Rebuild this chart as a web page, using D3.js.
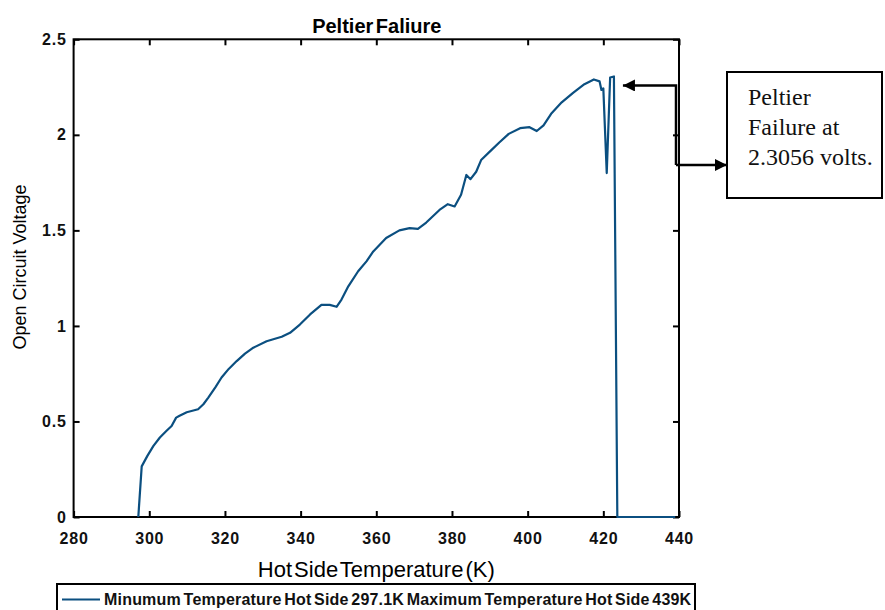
<!DOCTYPE html>
<html>
<head>
<meta charset="utf-8">
<script src="https://cdn.jsdelivr.net/npm/d3@7"></script>
<style>
  body { margin: 0; background: #fff; }
  svg { display: block; }
  .tick text { font-family: "Liberation Sans", Arial, sans-serif; font-size: 16px; font-weight: bold; fill: #111; letter-spacing: 0.8px; }
  .tick line { stroke: #000; stroke-width: 2; }
</style>
</head>
<body>
<div id="chart"></div>
<script>
// hot side temperature (K) and open circuit voltage (V)
var temps = [297.1, 298.0, 299.5, 301.1, 302.8, 304.5, 305.9, 307.1, 308.0, 309.9,
  312.9, 314.3, 315.6, 317.5, 319.1, 321.0, 323.1, 325.3, 327.5, 331.0,
  335.0, 337.2, 339.8, 342.5, 345.5, 347.7, 349.5, 350.8, 352.6, 355.2,
  357.4, 359.2, 360.9, 362.6, 366.1, 368.8, 371.0, 373.2, 376.7, 378.9,
  380.7, 382.4, 383.8, 384.9, 386.4, 387.7, 390.4, 392.5, 395.0, 398.0,
  400.5, 402.4, 404.2, 406.2, 409.0, 412.0, 415.0, 417.5, 419.0, 419.5,
  420.0, 420.9, 421.8, 422.8, 423.7, 439.0]
var voltages = [0, 0.265, 0.32, 0.372, 0.416, 0.45, 0.476, 0.52, 0.53, 0.548,
  0.564, 0.59, 0.625, 0.68, 0.73, 0.775, 0.816, 0.855, 0.886, 0.92,
  0.943, 0.964, 1.007, 1.06, 1.11, 1.11, 1.10, 1.138, 1.207, 1.286,
  1.338, 1.39, 1.425, 1.46, 1.50, 1.512, 1.508, 1.541, 1.607, 1.637,
  1.625, 1.686, 1.79, 1.768, 1.807, 1.868, 1.92, 1.96, 2.005, 2.035,
  2.04, 2.02, 2.05, 2.11, 2.17, 2.22, 2.265, 2.29, 2.28, 2.235,
  2.243, 1.80, 2.30, 2.3056, 0, 0]

var xTicks = [280, 300, 320, 340, 360, 380, 400, 420, 440]
var yTicks = [0, 0.5, 1, 1.5, 2, 2.5]
var yTickLabels = ["0", "0.5", "1", "1.5", "2", "2.5"]

var titleText = "Peltier Faliure"
var xLabel = "Hot Side Temperature (K)"
var yLabel = "Open Circuit Voltage"
var legendText = "Minumum Temperature Hot Side 297.1K Maximum Temperature Hot Side 439K"
var noteLines = ["Peltier", "Failure at", "2.3056 volts."]
var failureT = 422.8, failureV = 2.3056

var width = 885, height = 610
var plot = {left: 73.6, right: 679, top: 39.3, bottom: 517}
var lineColor = "#0b4f80"

var svg = d3.select("#chart").append("svg")
  .attr("width", width).attr("height", height)

var x = d3.scaleLinear().domain([280, 440]).range([plot.left, plot.right])
var y = d3.scaleLinear().domain([0, 2.5]).range([plot.bottom, plot.top])

// axes, ticks pointing inward like matlab
svg.append("g")
  .attr("transform", `translate(0,${plot.bottom})`)
  .call(d3.axisBottom(x).tickValues(xTicks).tickSizeInner(-6).tickSizeOuter(0).tickPadding(15.5))
  .call(g => g.select(".domain").remove())

svg.append("g")
  .attr("transform", `translate(${plot.left},0)`)
  .call(d3.axisLeft(y).tickValues(yTicks).tickFormat((d, i) => yTickLabels[i])
    .tickSizeInner(-6).tickSizeOuter(0).tickPadding(7))
  .call(g => g.select(".domain").remove())

svg.append("g")
  .attr("transform", `translate(0,${plot.top})`)
  .call(d3.axisTop(x).tickValues(xTicks).tickSizeInner(-6).tickSizeOuter(0).tickFormat(""))
  .call(g => g.select(".domain").remove())

svg.append("g")
  .attr("transform", `translate(${plot.right},0)`)
  .call(d3.axisRight(y).tickValues(yTicks).tickSizeInner(-6).tickSizeOuter(0).tickFormat(""))
  .call(g => g.select(".domain").remove())

svg.append("rect")
  .attr("x", plot.left).attr("y", plot.top)
  .attr("width", plot.right - plot.left).attr("height", plot.bottom - plot.top)
  .attr("fill", "none").attr("stroke", "#000").attr("stroke-width", 2)

// the curve
var pts = temps.map((t, i) => [t, voltages[i]])
var line = d3.line().x(d => x(d[0])).y(d => y(d[1]))
svg.append("path")
  .datum(pts)
  .attr("d", line)
  .attr("fill", "none")
  .attr("stroke", lineColor)
  .attr("stroke-width", 2.2)
  .attr("stroke-linejoin", "round")

// titles
svg.append("text")
  .attr("x", (plot.left + plot.right) / 2 + 0.5).attr("y", 33)
  .attr("text-anchor", "middle")
  .style("font-family", "Liberation Sans, Arial, sans-serif")
  .style("font-size", "20px").style("font-weight", "bold")
  .style("word-spacing", "-3px")
  .text(titleText)

svg.append("text")
  .attr("x", (plot.left + plot.right) / 2).attr("y", 577)
  .attr("text-anchor", "middle")
  .style("font-family", "Liberation Sans, Arial, sans-serif")
  .style("font-size", "22px")
  .style("word-spacing", "-4px")
  .text(xLabel)

svg.append("text")
  .attr("transform", `translate(26,267) rotate(-90)`)
  .attr("text-anchor", "middle")
  .style("font-family", "Liberation Sans, Arial, sans-serif")
  .style("font-size", "18px")
  .text(yLabel)

// legend box at the bottom
var legend = svg.append("g")
legend.append("rect")
  .attr("x", 57).attr("y", 584).attr("width", 638).attr("height", 34)
  .attr("fill", "#fff").attr("stroke", "#000").attr("stroke-width", 2)
legend.append("line")
  .attr("x1", 62).attr("x2", 100).attr("y1", 599.5).attr("y2", 599.5)
  .attr("stroke", lineColor).attr("stroke-width", 2.2)
legend.append("text")
  .attr("x", 104).attr("y", 605)
  .style("font-family", "Liberation Sans, Arial, sans-serif")
  .style("font-size", "16px").style("font-weight", "bold")
  .style("letter-spacing", "0.2px")
  .style("word-spacing", "-2px")
  .attr("fill", "#111")
  .text(legendText)

// annotation box + arrows
svg.append("defs").append("marker")
  .attr("id", "head")
  .attr("viewBox", "0 0 10 10")
  .attr("refX", 10).attr("refY", 5)
  .attr("markerWidth", 17).attr("markerHeight", 12)
  .attr("markerUnits", "userSpaceOnUse")
  .attr("orient", "auto")
  .append("path").attr("d", "M0,0 L10,5 L0,10 Z").attr("fill", "#000")

var tipX = x(failureT) + 9, tipY = y(failureV) + 9
var elbowX = 676, boxX = 727, boxY = 72, boxW = 155, boxH = 126
var lowY = 165

svg.append("path")
  .attr("d", `M${elbowX},${lowY} L${elbowX},${tipY} L${tipX},${tipY}`)
  .attr("fill", "none").attr("stroke", "#000").attr("stroke-width", 2.5)
  .attr("marker-end", "url(#head)")
svg.append("path")
  .attr("d", `M${elbowX},${lowY} L${boxX},${lowY}`)
  .attr("fill", "none").attr("stroke", "#000").attr("stroke-width", 2.5)
  .attr("marker-end", "url(#head)")

svg.append("rect")
  .attr("x", boxX).attr("y", boxY).attr("width", boxW).attr("height", boxH)
  .attr("fill", "#fff").attr("stroke", "#000").attr("stroke-width", 2)

svg.append("g").selectAll("text")
  .data(noteLines)
  .join("text")
  .attr("x", 748)
  .attr("y", (d, i) => 105 + i * 30)
  .style("font-family", "Liberation Serif, Times New Roman, serif")
  .style("font-size", "24px")
  .attr("fill", "#111")
  .text(d => d)
</script>
</body>
</html>
